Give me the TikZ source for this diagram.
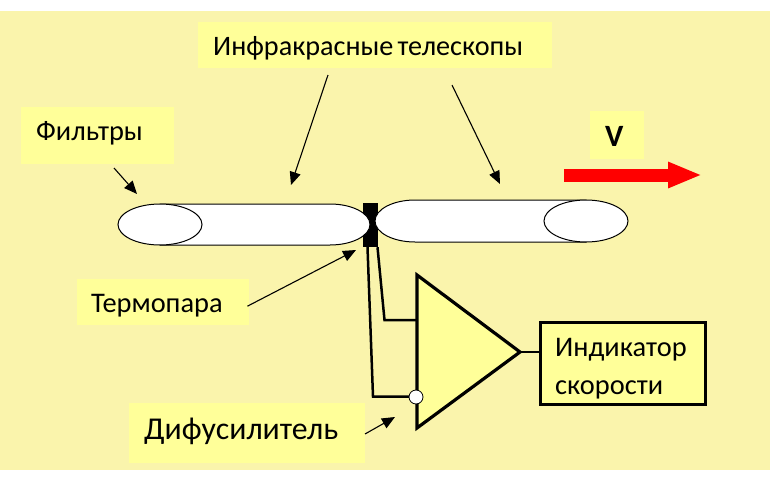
\documentclass[tikz,border=0pt]{standalone}
\usepackage{fontspec}
\setmainfont{Carlito}
\usetikzlibrary{arrows.meta,shapes.geometric}
\definecolor{backyellow}{HTML}{FAF4AC}
\definecolor{labelyellow}{HTML}{FFFF99}
\tikzset{
  labelbox/.style={fill=labelyellow,inner sep=0pt,align=left,anchor=north west,text depth=0pt},
  pointer/.style={-{Triangle[length=13pt,width=11pt]},line width=1.1pt},
  wire/.style={line width=2.5pt},
  amp/.style={line width=3.2pt,fill=labelyellow,line join=miter},
  tube/.style={fill=white,line width=1pt}
}
\newcommand{\labelfont}{\fontsize{28.4}{32}\selectfont}
\begin{document}
\begin{tikzpicture}[x=1pt,y=-1pt]
\useasboundingbox (0,0) rectangle (774,477);
\fill[backyellow] (0,11) rectangle (770,470);
% labels
\node[labelbox,minimum height=46pt,text width=354pt,text height=20pt] (scopes) at (198,22) {\fontsize{28.2}{32}\selectfont\hspace*{15pt}Инфракрасные\hspace{4pt}телескопы};
\node[labelbox,minimum height=57pt,text width=153pt,text height=9pt] (filters) at (21,107) {\labelfont\hspace*{15pt}Фильтры};
\node[labelbox,minimum height=46pt,text width=172pt,text height=20pt] (thermo) at (77,279) {\labelfont\hspace*{14pt}Термопара};
\node[labelbox,minimum height=48pt,text width=54pt,text height=22pt] (speed) at (590,111) {\fontsize{31}{34}\selectfont\bfseries\hspace*{15pt}V};
\node[labelbox,minimum height=60pt,text width=236pt,text height=12pt] (diff) at (129,403) {\fontsize{31.8}{36}\selectfont\hspace*{15pt}Дифусилитель};
% thermocouple
\node[fill=black,inner sep=0pt,minimum width=15pt,minimum height=44pt] (junction) at (370.5,225) {};
% tubes
\draw[tube] (160,204) -- (330,204) .. controls (352,204) and (370,213.2) .. (370,224.5)
  .. controls (370,235.8) and (352,245) .. (330,245) -- (160,245) -- cycle;
\node[draw,tube,ellipse,inner sep=0pt,minimum width=84pt,minimum height=41pt] (leftfilter) at (160,224.5) {};
\draw[tube] (586,200) -- (415,200) .. controls (393,200) and (375,209.4) .. (375,221)
  .. controls (375,232.6) and (393,242) .. (415,242) -- (586,242) -- cycle;
\node[draw,tube,ellipse,inner sep=0pt,minimum width=84pt,minimum height=42pt] (rightfilter) at (586,221) {};
% amplifier
\coordinate (ampa) at (417,275);
\coordinate (ampb) at (520,352);
\coordinate (ampc) at (417,428);
\coordinate (plus) at (417,320);
\coordinate (minus) at (373,396.5);
\coordinate (plusbend) at (384.5,320);
\draw[wire] (junction.south) ++(7,0) coordinate (plusstart) -- (plusbend) -- (plus);
\draw[wire] (junction.south) ++(-3,0) coordinate (minusstart) -- (minus) -- (410,396.5);
\draw[amp] (ampa) -- (ampb) -- (ampc) -- cycle;
\node[draw,fill=white,circle,inner sep=0pt,minimum size=14pt,line width=0.8pt] (inv) at (416,397) {};
% indicator
\node[draw,line width=3.2pt,fill=labelyellow,minimum width=165pt,minimum height=82pt,anchor=north west,inner sep=0pt] (indicator) at (539,321) {};
\node[anchor=base west,inner sep=0pt] (indtop) at (555,356) {\labelfont Индикатор};
\node[anchor=base west,inner sep=0pt] (indbot) at (555,394) {\labelfont скорости};
\draw[wire] (ampb) -- (indicator.west |- ampb);
% velocity arrow
\coordinate (vstart) at (564,175);
\coordinate (vend) at (702,175);
\draw[red,line width=13pt,-{Triangle[length=34pt,width=24pt]}] (vstart) -- (vend);
% pointers
\coordinate (scopesa) at (328,75);
\coordinate (scopesb) at (452,85);
\draw[pointer] (scopesa) -- (291,185) coordinate (tubea);
\draw[pointer] (scopesb) -- (500,184) coordinate (tubeb);
\coordinate (filtersa) at (114,168);
\draw[pointer] (filtersa) -- (137,194) coordinate (filterend);
\draw[pointer] (thermo.east) ++(-2,4) coordinate (thermoa) -- (356,250) coordinate (thermoend);
\coordinate (diffa) at (365,434);
\draw[pointer] (diffa) -- (395,417) coordinate (diffend);
\end{tikzpicture}
\end{document}
